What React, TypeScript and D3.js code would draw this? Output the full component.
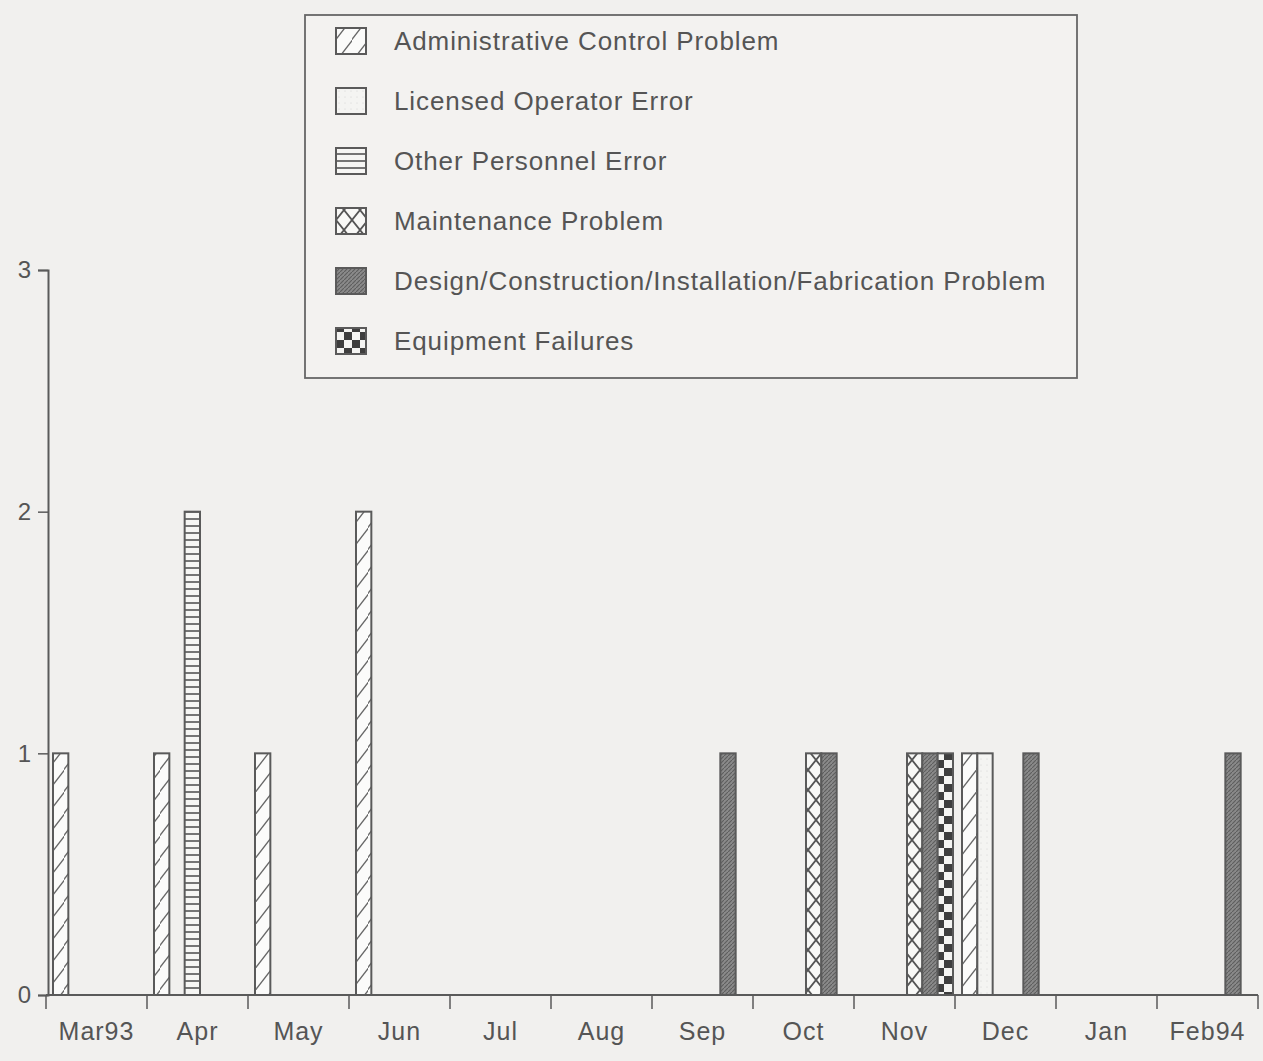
import { useEffect, useRef } from 'react'
import * as d3 from 'd3'

const months = ['Mar93', 'Apr', 'May', 'Jun', 'Jul', 'Aug', 'Sep', 'Oct', 'Nov', 'Dec', 'Jan', 'Feb94']
const categories = [
  'Administrative Control Problem',
  'Licensed Operator Error',
  'Other Personnel Error',
  'Maintenance Problem',
  'Design/Construction/Installation/Fabrication Problem',
  'Equipment Failures',
]
const adminControl = [1, 1, 1, 2, 0, 0, 0, 0, 0, 1, 0, 0]
const licensedOperator = [0, 0, 0, 0, 0, 0, 0, 0, 0, 1, 0, 0]
const otherPersonnel = [0, 2, 0, 0, 0, 0, 0, 0, 0, 0, 0, 0]
const maintenance = [0, 0, 0, 0, 0, 0, 0, 1, 1, 0, 0, 0]
const designConstruction = [0, 0, 0, 0, 0, 0, 1, 1, 1, 1, 0, 1]
const equipmentFailures = [0, 0, 0, 0, 0, 0, 0, 0, 1, 0, 0, 0]
const yTicks = [0, 1, 2, 3]

const seriesValues = [adminControl, licensedOperator, otherPersonnel, maintenance, designConstruction, equipmentFailures]
const patternIds = ['p-admin', 'p-licensed', 'p-other', 'p-maint', 'p-design', 'p-equip']

export default function App() {
  const svgRef = useRef<SVGSVGElement>(null)

  useEffect(() => {
    if (!svgRef.current) return
    const W = 1263
    const H = 1061
    const svg = d3.select(svgRef.current)
    svg.selectAll('*').remove()
    svg.attr('width', W).attr('height', H)

    const ink = '#5a5a5a'
    const textColor = '#555'
    const font = '"Liberation Sans", Arial, sans-serif'

    svg.append('rect').attr('width', W).attr('height', H).attr('fill', '#f1f0ee')

    // patterns
    const defs = svg.append('defs')
    const admin = defs.append('pattern').attr('id', 'p-admin')
      .attr('patternUnits', 'userSpaceOnUse').attr('width', 16).attr('height', 22)
    admin.append('rect').attr('width', 16).attr('height', 22).attr('fill', '#fbfbfa')
    admin.append('path').attr('d', 'M-2,24 L18,-2').attr('stroke', '#666').attr('stroke-width', 1.3)

    const lic = defs.append('pattern').attr('id', 'p-licensed')
      .attr('patternUnits', 'userSpaceOnUse').attr('width', 6).attr('height', 6)
    lic.append('rect').attr('width', 6).attr('height', 6).attr('fill', '#f4f4f2')
    lic.append('circle').attr('cx', 3).attr('cy', 3).attr('r', 0.5).attr('fill', '#ccc')

    const other = defs.append('pattern').attr('id', 'p-other')
      .attr('patternUnits', 'userSpaceOnUse').attr('width', 8).attr('height', 7)
    other.append('rect').attr('width', 8).attr('height', 7).attr('fill', '#f6f6f4')
    other.append('line').attr('x1', 0).attr('x2', 8).attr('y1', 1).attr('y2', 1)
      .attr('stroke', '#666').attr('stroke-width', 1.8)

    const maint = defs.append('pattern').attr('id', 'p-maint')
      .attr('patternUnits', 'userSpaceOnUse').attr('width', 16).attr('height', 20)
    maint.append('rect').attr('width', 16).attr('height', 20).attr('fill', '#f8f8f6')
    maint.append('path').attr('d', 'M0,0 L16,20 M16,0 L0,20').attr('stroke', '#555').attr('stroke-width', 1.8)

    const design = defs.append('pattern').attr('id', 'p-design')
      .attr('patternUnits', 'userSpaceOnUse').attr('width', 4).attr('height', 4)
    design.append('rect').attr('width', 4).attr('height', 4).attr('fill', '#8a8a8a')
    design.append('path').attr('d', 'M0,4 L4,0').attr('stroke', '#5e5e5e').attr('stroke-width', 1.2)

    const equip = defs.append('pattern').attr('id', 'p-equip')
      .attr('patternUnits', 'userSpaceOnUse').attr('width', 16).attr('height', 16)
    equip.append('rect').attr('width', 16).attr('height', 16).attr('fill', '#f4f4f2')
    equip.append('rect').attr('width', 8).attr('height', 8).attr('fill', '#3e3e3e')
    equip.append('rect').attr('x', 8).attr('y', 8).attr('width', 8).attr('height', 8).attr('fill', '#3e3e3e')

    // scales
    const x0 = d3.scaleBand<string>().domain(months).range([46, 1258]).paddingInner(0).paddingOuter(0)
    const x1 = d3.scaleBand<string>().domain(categories).range([7, 99]).padding(0)
    const y = d3.scaleLinear().domain([0, 3]).range([995, 270])

    // bars
    const barData = months.flatMap((m, mi) =>
      categories.map((c, ci) => ({ month: m, cat: c, ci, value: seriesValues[ci][mi] }))
    ).filter(d => d.value > 0)

    svg.append('g').selectAll('rect')
      .data(barData)
      .enter().append('rect')
      .attr('x', d => (x0(d.month) ?? 0) + (x1(d.cat) ?? 0))
      .attr('y', d => y(d.value))
      .attr('width', x1.bandwidth())
      .attr('height', d => y(0) - y(d.value))
      .attr('fill', d => `url(#${patternIds[d.ci]})`)
      .attr('stroke', ink)
      .attr('stroke-width', 2)

    // y axis
    const yAxis = svg.append('g')
      .attr('transform', 'translate(48,0)')
      .call(d3.axisLeft(y).tickValues(yTicks).tickFormat(d3.format('d')).tickSize(10).tickPadding(7))
    yAxis.select('.domain').attr('stroke', ink).attr('stroke-width', 2)
    yAxis.selectAll('.tick line').attr('stroke', ink).attr('stroke-width', 1.5)
    yAxis.selectAll('text').attr('fill', textColor).style('font-family', font).style('font-size', '24px')

    // x axis
    const xg = svg.append('g').attr('transform', `translate(0,${y(0)})`)
    xg.append('line').attr('x1', 46).attr('x2', 1258).attr('y1', 0).attr('y2', 0)
      .attr('stroke', ink).attr('stroke-width', 2)
    const boundaries = [...months.map(m => x0(m) ?? 0), x0.range()[1]]
    xg.selectAll('.xt').data(boundaries).enter().append('line')
      .attr('x1', d => d).attr('x2', d => d).attr('y1', 0).attr('y2', 14)
      .attr('stroke', ink).attr('stroke-width', 1.5)
    xg.selectAll('.xl').data(months).enter().append('text')
      .attr('x', d => (x0(d) ?? 0) + x0.bandwidth() / 2)
      .attr('y', 45)
      .attr('text-anchor', 'middle')
      .attr('fill', textColor)
      .style('font-family', font)
      .style('font-size', '25px')
      .style('letter-spacing', '1px')
      .text(d => d)

    // legend
    const lg = svg.append('g')
    lg.append('rect').attr('x', 305).attr('y', 15).attr('width', 772).attr('height', 363)
      .attr('fill', '#f3f2f0').attr('stroke', '#666').attr('stroke-width', 1.8)
    const rowY = d3.scalePoint<string>().domain(categories).range([40, 340])
    const rows = lg.selectAll('.lr').data(categories).enter().append('g')
      .attr('transform', d => `translate(0,${rowY(d)})`)
    rows.append('rect')
      .attr('x', 336).attr('y', -12).attr('width', 30).attr('height', 26)
      .attr('fill', (_, i) => `url(#${patternIds[i]})`)
      .attr('stroke', ink).attr('stroke-width', 2)
    rows.append('text')
      .attr('x', 394).attr('y', 10)
      .attr('fill', textColor)
      .style('font-family', font)
      .style('font-size', '26px')
      .style('letter-spacing', '0.9px')
      .text(d => d)
  }, [])

  return (
    <div style={{ position: 'absolute', left: 0, top: 0 }}>
      <svg ref={svgRef} style={{ display: 'block' }}></svg>
    </div>
  )
}
